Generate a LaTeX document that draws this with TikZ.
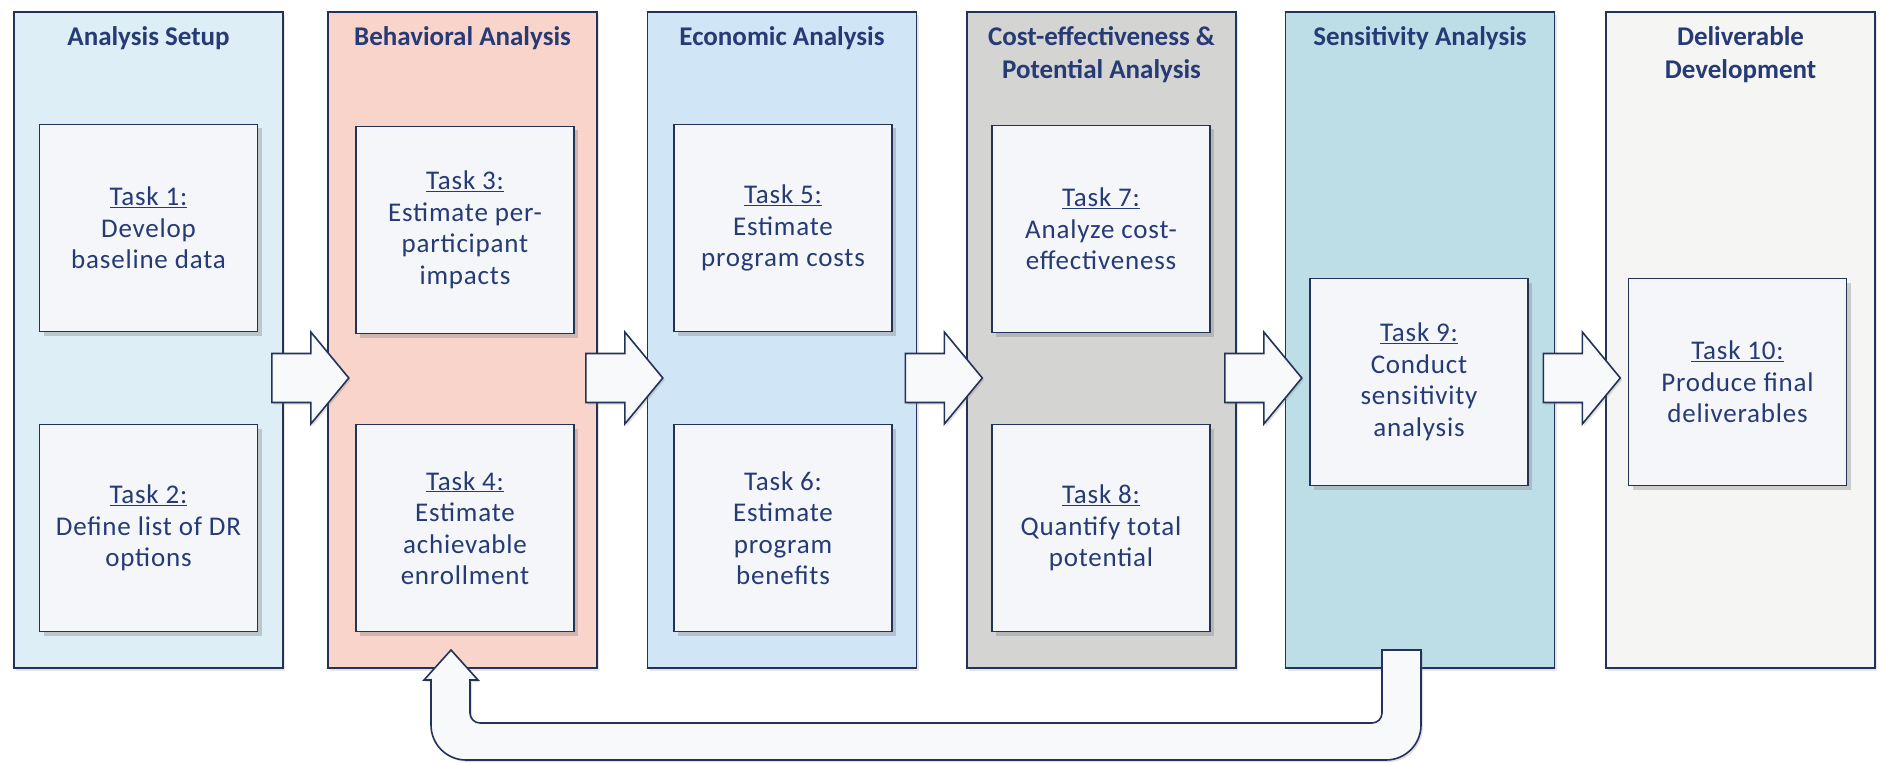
\documentclass[tikz,border=0pt]{standalone}
\usepackage{fontspec}
\setmainfont{Carlito}
\usetikzlibrary{shadows}

\definecolor{navy}{RGB}{35,50,88}
\definecolor{inkblue}{RGB}{38,58,118}
\definecolor{setupblue}{RGB}{221,238,246}
\definecolor{behavpink}{RGB}{248,212,203}
\definecolor{econblue}{RGB}{208,229,245}
\definecolor{costgrey}{RGB}{212,212,210}
\definecolor{senseteal}{RGB}{190,222,231}
\definecolor{delivwhite}{RGB}{245,246,243}
\definecolor{taskwhite}{RGB}{244,246,249}
\definecolor{arrowwhite}{RGB}{247,249,251}

\begin{document}
\begin{tikzpicture}[x=1pt,y=-1pt,
  phase/.style={draw=navy,line width=1.6pt,minimum width=269pt,minimum height=656pt,inner sep=0pt,
    drop shadow={shadow xshift=2pt,shadow yshift=-3pt,opacity=0.2}},
  phasetitle/.style={anchor=north,align=center,inner sep=0pt,text=inkblue,
    font=\bfseries\fontsize{27}{33.5}\selectfont},
  task/.style={draw=navy,line width=1.6pt,fill=taskwhite,minimum width=218pt,minimum height=207pt,
    align=center,text=inkblue,font=\fontsize{27}{31.5}\selectfont\addfontfeature{LetterSpace=3},
    drop shadow={shadow xshift=4pt,shadow yshift=-4pt,opacity=0.35}},
  blockarr/.style={draw=navy,line width=1.6pt,fill=arrowwhite,line join=miter,
    drop shadow={shadow xshift=2pt,shadow yshift=-2pt,opacity=0.25}},
  rarrow/.pic={\draw[blockarr] (0,-24.5) -- (39,-24.5) -- (39,-46) -- (77,0) -- (39,46) -- (39,24.5) -- (0,24.5) -- cycle;}]

\useasboundingbox (0,0) rectangle (1885,765);

\node[phase,fill=setupblue] (c1) at (148.5,340) {};
\node[phase,fill=behavpink] (c2) at (462.5,340) {};
\node[phase,fill=econblue] (c3) at (782,340) {};
\node[phase,fill=costgrey] (c4) at (1101.5,340) {};
\node[phase,fill=senseteal] (c5) at (1420,340) {};
\node[phase,fill=delivwhite] (c6) at (1740.5,340) {};

\node[phasetitle] (h1) at (148.5,26) {Analysis Setup};
\node[phasetitle] (h2) at (462.5,26) {Behavioral Analysis};
\node[phasetitle] (h3) at (782,26) {Economic Analysis};
\node[phasetitle] (h4) at (1101.5,26) {Cost-effectiveness \&\\Potential Analysis};
\node[phasetitle] (h5) at (1420,26) {Sensitivity Analysis};
\node[phasetitle] (h6) at (1740.5,26) {Deliverable\\Development};

\node[task] (t1) at (148.5,228) {\underline{Task 1:}\\Develop\\baseline data};
\node[task] (t2) at (148.5,528) {\underline{Task 2:}\\Define list of DR\\options};
\node[task] (t3) at (465,230) {\underline{Task 3:}\\Estimate per-\\participant\\impacts};
\node[task] (t4) at (465,528) {\underline{Task 4:}\\Estimate\\achievable\\enrollment};
\node[task] (t5) at (783,228) {\underline{Task 5:}\\Estimate\\program costs};
\node[task] (t6) at (783,528) {Task 6:\\Estimate\\program\\benefits};
\node[task] (t7) at (1101,229) {\underline{Task 7:}\\Analyze cost-\\effectiveness};
\node[task] (t8) at (1101,528) {\underline{Task 8:}\\Quantify total\\potential};
\node[task] (t9) at (1419,382) {\underline{Task 9:}\\Conduct\\sensitivity\\analysis};
\node[task] (t10) at (1737.5,382) {\underline{Task 10:}\\Produce final\\deliverables};

\pic at ([xshift=-12pt,yshift=-38pt]c1.east) {rarrow};
\pic at ([xshift=-12pt,yshift=-38pt]c2.east) {rarrow};
\pic at ([xshift=-12pt,yshift=-38pt]c3.east) {rarrow};
\pic at ([xshift=-12pt,yshift=-38pt]c4.east) {rarrow};
\pic at ([xshift=-12pt,yshift=-38pt]c5.east) {rarrow};

\draw[blockarr] (1382,650) -- (1421,650) -- (1421,725) arc[start angle=0,end angle=90,radius=35]
  -- (466,760) arc[start angle=90,end angle=180,radius=35]
  -- (431,680) -- (424,680) -- (451,650) -- (478,680) -- (470,680)
  -- (470,713) arc[start angle=180,end angle=90,radius=10]
  -- (1372,723) arc[start angle=90,end angle=0,radius=10] -- cycle;

\end{tikzpicture}
\end{document}
